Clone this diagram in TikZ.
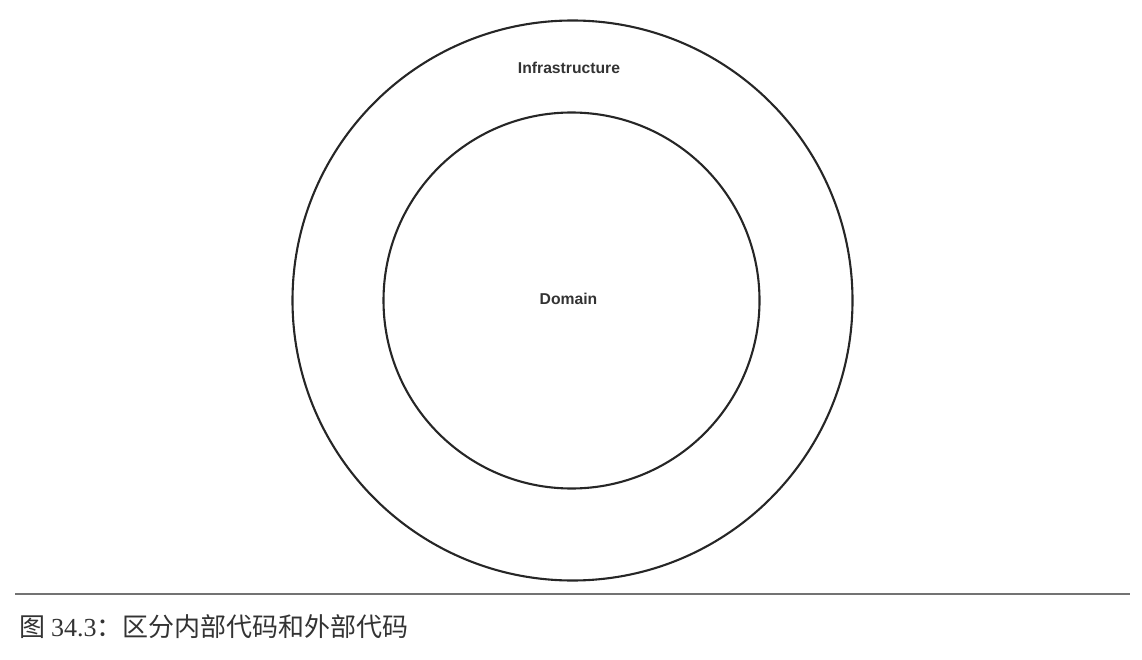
\documentclass[tikz,border=0pt]{standalone}
\usepackage{fontspec}
\setmainfont{Liberation Sans}
\newfontfamily\cjk{Noto Sans CJK SC}
\newfontfamily\capserif{Liberation Serif}
\tikzset{
  ring/.style={draw=black!85, line width=2.1pt},
  lbl/.style={font=\fontsize{15.7}{18}\selectfont\bfseries, text=black!80},
  rule/.style={draw=black!55, line width=1.3pt},
}
\begin{document}
\begin{tikzpicture}[x=1pt,y=-1pt]
\useasboundingbox (0,0) rectangle (1142,660);
\node[ring, circle, minimum size=560pt, inner sep=0pt] (outer) at (572.5,300.5) {};
\node[ring, circle, minimum size=376pt, inner sep=0pt] (inner) at (571.5,300.5) {};
\node[lbl] (infra) at (569,68) {Infrastructure};
\node[lbl] (domain) at (568.5,299) {Domain};
\coordinate (l1) at (15,594);
\coordinate (l2) at (1130,594);
\draw[rule] (l1) -- (l2);
\node[anchor=west, inner sep=0pt, text=black!80, font=\fontsize{26}{30}\selectfont] (cap) at (19,627) {\cjk 图 \capserif 34.3\cjk ：区分内部代码和外部代码};
\end{tikzpicture}
\end{document}
